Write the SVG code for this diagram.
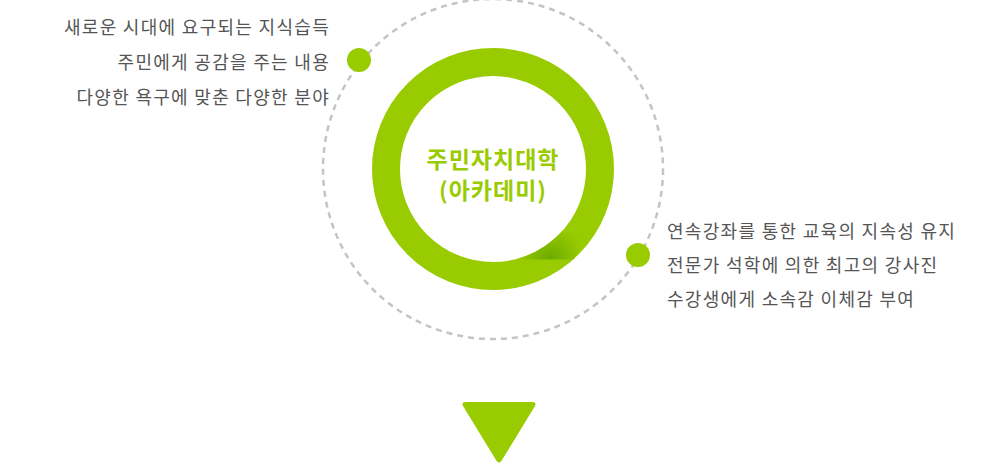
<svg xmlns="http://www.w3.org/2000/svg" width="1000" height="464" viewBox="0 0 1000 464">
<defs>
<style>
.t{font-family:"Noto Sans CJK KR","Noto Sans",sans-serif;font-size:18px;letter-spacing:1.3px;fill:#555}
.c{font-family:"Noto Sans CJK KR","Noto Sans",sans-serif;font-size:23px;font-weight:bold;letter-spacing:1px;fill:#99cc00}
.dot{fill:#99cc00}
</style>
<radialGradient id="sh" gradientUnits="userSpaceOnUse" cx="550" cy="259" r="42">
<stop offset="0" stop-color="#6aaa00"/>
<stop offset="0.5" stop-color="#7fb800" stop-opacity="0.7"/>
<stop offset="1" stop-color="#99cc00" stop-opacity="0"/>
</radialGradient>
</defs>
<g id="orbit">
<circle cx="493" cy="169" r="170" fill="none" stroke="#c4c4c4" stroke-width="2.5" stroke-dasharray="6 5"/>
</g>
<g id="center">
<circle cx="493" cy="169" r="107" fill="none" stroke="#99cc00" stroke-width="28"/>
<path d="M510 259.5 L516 259 A93 93 0 0 0 562 231 L585 238 L574 259.5 Z" fill="url(#sh)"/>
<text class="c" x="493" y="168" text-anchor="middle">주민자치대학</text>
<text class="c" x="493" y="199" text-anchor="middle">(아카데미)</text>
</g>
<g id="left">
<circle class="dot" cx="359" cy="60" r="12"/>
<text class="t" x="330" y="34" text-anchor="end">새로운 시대에 요구되는 지식습득</text>
<text class="t" x="330" y="69" text-anchor="end">주민에게 공감을 주는 내용</text>
<text class="t" x="330" y="104" text-anchor="end">다양한 욕구에 맞춘 다양한 분야</text>
</g>
<g id="right">
<circle class="dot" cx="638" cy="255" r="12"/>
<text class="t" x="667" y="238">연속강좌를 통한 교육의 지속성 유지</text>
<text class="t" x="667" y="272">전문가 석학에 의한 최고의 강사진</text>
<text class="t" x="667" y="306">수강생에게 소속감 이체감 부여</text>
</g>
<g id="arrow">
<path d="M466 402 L532 402 Q537 402 535 406 L502 460 Q499 465 496 460 L463 406 Q461 402 466 402 Z" fill="#99cc00"/>
</g>
</svg>
